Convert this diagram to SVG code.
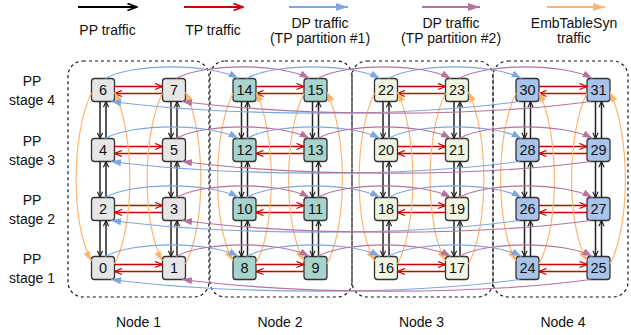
<svg xmlns="http://www.w3.org/2000/svg" width="631" height="335" viewBox="0 0 631 335">
<defs>
<style>
text{font-family:"Liberation Sans",Arial,sans-serif;font-size:14px;fill:#111;text-anchor:middle}
.box{stroke:#333;stroke-width:1.3}
.box + text{font-size:14.5px}
.g1{fill:#e6e6e6}.g2{fill:#a9d4cd}.g3{fill:#eff5e1}.g4{fill:#a9c4eb}
.grp{fill:none;stroke:#111;stroke-width:1.2;stroke-dasharray:3 3}
.pp path{fill:none;stroke:#222;stroke-width:1.5;marker-end:url(#mBk)}
.tp path{fill:none;stroke:#cc0000;stroke-width:1.5;marker-end:url(#mRd)}
.emb path{fill:none;stroke:#ffb570;stroke-width:1.2;marker-end:url(#mOr)}
.dp1{fill:none;stroke:#7ea6e0;stroke-width:1.2;marker-end:url(#mBl)}
.dp2{fill:none;stroke:#b5739d;stroke-width:1.2;marker-end:url(#mPu)}
.leg{fill:none;stroke-width:2}
</style>
<marker id="mBk" viewBox="0 0 8 8" refX="7.5" refY="4" markerWidth="7" markerHeight="7" markerUnits="userSpaceOnUse" orient="auto"><path d="M1,1 L7.5,4 L1,7" fill="none" stroke="#222" stroke-width="1.3"/></marker>
<marker id="mRd" viewBox="0 0 9 8" refX="8.5" refY="4" markerWidth="9" markerHeight="8" markerUnits="userSpaceOnUse" orient="auto"><path d="M1,1 L8.5,4 L1,7" fill="none" stroke="#cc0000" stroke-width="1.3"/></marker>
<marker id="mBl" viewBox="0 0 10 8" refX="10" refY="4" markerWidth="10" markerHeight="8" markerUnits="userSpaceOnUse" orient="auto"><path d="M0,0.5 L10,4 L0,7.5 z" fill="#7ea6e0"/></marker>
<marker id="mPu" viewBox="0 0 10 8" refX="10" refY="4" markerWidth="10" markerHeight="8" markerUnits="userSpaceOnUse" orient="auto"><path d="M0,0.5 L10,4 L0,7.5 z" fill="#b5739d"/></marker>
<marker id="mOr" viewBox="0 0 10 8" refX="10" refY="4" markerWidth="10" markerHeight="8" markerUnits="userSpaceOnUse" orient="auto"><path d="M0,0.5 L10,4 L0,7.5 z" fill="#ffb570"/></marker>
<marker id="lBk" viewBox="0 0 11 9" refX="10.5" refY="4.5" markerWidth="11" markerHeight="9" markerUnits="userSpaceOnUse" orient="auto"><path d="M1,1 L10,4.5 L1,8" fill="none" stroke="#000" stroke-width="1.8"/></marker>
<marker id="lRd" viewBox="0 0 11 9" refX="10.5" refY="4.5" markerWidth="11" markerHeight="9" markerUnits="userSpaceOnUse" orient="auto"><path d="M1,1 L10,4.5 L1,8" fill="none" stroke="#cc0000" stroke-width="1.8"/></marker>
<marker id="lBl" viewBox="0 0 12 9" refX="12" refY="4.5" markerWidth="12" markerHeight="9" markerUnits="userSpaceOnUse" orient="auto"><path d="M0,0.5 L12,4.5 L0,8.5 z" fill="#7ea6e0"/></marker>
<marker id="lPu" viewBox="0 0 12 9" refX="12" refY="4.5" markerWidth="12" markerHeight="9" markerUnits="userSpaceOnUse" orient="auto"><path d="M0,0.5 L12,4.5 L0,8.5 z" fill="#b5739d"/></marker>
<marker id="lOr" viewBox="0 0 12 9" refX="12" refY="4.5" markerWidth="12" markerHeight="9" markerUnits="userSpaceOnUse" orient="auto"><path d="M0,0.5 L12,4.5 L0,8.5 z" fill="#ffb570"/></marker>
</defs>
<rect width="631" height="335" fill="#fff"/>

<g id="legend">
<path class="leg" d="M78,7H137" stroke="#000" marker-end="url(#lBk)"/>
<path class="leg" d="M184,7H243" stroke="#cc0000" marker-end="url(#lRd)"/>
<path class="leg" d="M289,7H348" stroke="#7ea6e0" marker-end="url(#lBl)"/>
<path class="leg" d="M422,7H480" stroke="#b5739d" marker-end="url(#lPu)"/>
<path class="leg" d="M547,7H605" stroke="#ffb570" marker-end="url(#lOr)"/>
<text x="107.5" y="34.5">PP traffic</text>
<text x="213" y="34.5">TP traffic</text>
<text x="320" y="28">DP traffic</text>
<text x="320" y="42.5">(TP partition #1)</text>
<text x="451" y="28">DP traffic</text>
<text x="451" y="42.5">(TP partition #2)</text>
<text x="574" y="28">EmbTableSyn</text>
<text x="574" y="43">traffic</text>
</g>

<g id="stage-labels">
<text x="32" y="85.5">PP</text><text x="32" y="104.5">stage 4</text>
<text x="32" y="145.5">PP</text><text x="32" y="164.5">stage 3</text>
<text x="32" y="204.5">PP</text><text x="32" y="223.5">stage 2</text>
<text x="32" y="263.5">PP</text><text x="32" y="282.5">stage 1</text>
</g>

<g id="server-nodes">
<g id="node-group-1"><rect class="grp" x="68" y="61" width="141" height="236" rx="15"/><text x="138.5" y="326.5">Node 1</text></g>
<g id="node-group-2"><rect class="grp" x="210" y="61" width="142" height="236" rx="15"/><text x="280" y="326.5">Node 2</text></g>
<g id="node-group-3"><rect class="grp" x="352" y="61" width="141" height="236" rx="15"/><text x="421.5" y="326.5">Node 3</text></g>
<g id="node-group-4"><rect class="grp" x="493" y="61" width="135" height="236" rx="15"/><text x="563" y="326.5">Node 4</text></g>
</g>

<g id="gpus">
<g id="gpu-0" transform="translate(103,268)"><rect class="box g1" x="-11.5" y="-11.5" width="23" height="23" rx="3"/><text y="5">0</text></g>
<g id="gpu-1" transform="translate(174,268)"><rect class="box g1" x="-11.5" y="-11.5" width="23" height="23" rx="3"/><text y="5">1</text></g>
<g id="gpu-2" transform="translate(103,209)"><rect class="box g1" x="-11.5" y="-11.5" width="23" height="23" rx="3"/><text y="5">2</text></g>
<g id="gpu-3" transform="translate(174,209)"><rect class="box g1" x="-11.5" y="-11.5" width="23" height="23" rx="3"/><text y="5">3</text></g>
<g id="gpu-4" transform="translate(103,150)"><rect class="box g1" x="-11.5" y="-11.5" width="23" height="23" rx="3"/><text y="5">4</text></g>
<g id="gpu-5" transform="translate(174,150)"><rect class="box g1" x="-11.5" y="-11.5" width="23" height="23" rx="3"/><text y="5">5</text></g>
<g id="gpu-6" transform="translate(103,90)"><rect class="box g1" x="-11.5" y="-11.5" width="23" height="23" rx="3"/><text y="5">6</text></g>
<g id="gpu-7" transform="translate(174,90)"><rect class="box g1" x="-11.5" y="-11.5" width="23" height="23" rx="3"/><text y="5">7</text></g>
<g id="gpu-8" transform="translate(244.5,268)"><rect class="box g2" x="-11.5" y="-11.5" width="23" height="23" rx="3"/><text y="5">8</text></g>
<g id="gpu-9" transform="translate(315.5,268)"><rect class="box g2" x="-11.5" y="-11.5" width="23" height="23" rx="3"/><text y="5">9</text></g>
<g id="gpu-10" transform="translate(244.5,209)"><rect class="box g2" x="-11.5" y="-11.5" width="23" height="23" rx="3"/><text y="5">10</text></g>
<g id="gpu-11" transform="translate(315.5,209)"><rect class="box g2" x="-11.5" y="-11.5" width="23" height="23" rx="3"/><text y="5">11</text></g>
<g id="gpu-12" transform="translate(244.5,150)"><rect class="box g2" x="-11.5" y="-11.5" width="23" height="23" rx="3"/><text y="5">12</text></g>
<g id="gpu-13" transform="translate(315.5,150)"><rect class="box g2" x="-11.5" y="-11.5" width="23" height="23" rx="3"/><text y="5">13</text></g>
<g id="gpu-14" transform="translate(244.5,90)"><rect class="box g2" x="-11.5" y="-11.5" width="23" height="23" rx="3"/><text y="5">14</text></g>
<g id="gpu-15" transform="translate(315.5,90)"><rect class="box g2" x="-11.5" y="-11.5" width="23" height="23" rx="3"/><text y="5">15</text></g>
<g id="gpu-16" transform="translate(386,268)"><rect class="box g3" x="-11.5" y="-11.5" width="23" height="23" rx="3"/><text y="5">16</text></g>
<g id="gpu-17" transform="translate(457,268)"><rect class="box g3" x="-11.5" y="-11.5" width="23" height="23" rx="3"/><text y="5">17</text></g>
<g id="gpu-18" transform="translate(386,209)"><rect class="box g3" x="-11.5" y="-11.5" width="23" height="23" rx="3"/><text y="5">18</text></g>
<g id="gpu-19" transform="translate(457,209)"><rect class="box g3" x="-11.5" y="-11.5" width="23" height="23" rx="3"/><text y="5">19</text></g>
<g id="gpu-20" transform="translate(386,150)"><rect class="box g3" x="-11.5" y="-11.5" width="23" height="23" rx="3"/><text y="5">20</text></g>
<g id="gpu-21" transform="translate(457,150)"><rect class="box g3" x="-11.5" y="-11.5" width="23" height="23" rx="3"/><text y="5">21</text></g>
<g id="gpu-22" transform="translate(386,90)"><rect class="box g3" x="-11.5" y="-11.5" width="23" height="23" rx="3"/><text y="5">22</text></g>
<g id="gpu-23" transform="translate(457,90)"><rect class="box g3" x="-11.5" y="-11.5" width="23" height="23" rx="3"/><text y="5">23</text></g>
<g id="gpu-24" transform="translate(527.5,268)"><rect class="box g4" x="-11.5" y="-11.5" width="23" height="23" rx="3"/><text y="5">24</text></g>
<g id="gpu-25" transform="translate(598.5,268)"><rect class="box g4" x="-11.5" y="-11.5" width="23" height="23" rx="3"/><text y="5">25</text></g>
<g id="gpu-26" transform="translate(527.5,209)"><rect class="box g4" x="-11.5" y="-11.5" width="23" height="23" rx="3"/><text y="5">26</text></g>
<g id="gpu-27" transform="translate(598.5,209)"><rect class="box g4" x="-11.5" y="-11.5" width="23" height="23" rx="3"/><text y="5">27</text></g>
<g id="gpu-28" transform="translate(527.5,150)"><rect class="box g4" x="-11.5" y="-11.5" width="23" height="23" rx="3"/><text y="5">28</text></g>
<g id="gpu-29" transform="translate(598.5,150)"><rect class="box g4" x="-11.5" y="-11.5" width="23" height="23" rx="3"/><text y="5">29</text></g>
<g id="gpu-30" transform="translate(527.5,90)"><rect class="box g4" x="-11.5" y="-11.5" width="23" height="23" rx="3"/><text y="5">30</text></g>
<g id="gpu-31" transform="translate(598.5,90)"><rect class="box g4" x="-11.5" y="-11.5" width="23" height="23" rx="3"/><text y="5">31</text></g>
</g>

<g id="connectors">
<g id="pp-traffic" class="pp">
<g transform="translate(103,0)">
<path d="M-3,101.5V138.5"/><path d="M3,138.5V101.5"/><path d="M-3,161.5V197.5"/><path d="M3,197.5V161.5"/><path d="M-3,220.5V256.5"/><path d="M3,256.5V220.5"/>
<path d="M68,101.5V138.5"/><path d="M74,138.5V101.5"/><path d="M68,161.5V197.5"/><path d="M74,197.5V161.5"/><path d="M68,220.5V256.5"/><path d="M74,256.5V220.5"/>
</g>
<g transform="translate(244.5,0)">
<path d="M-3,101.5V138.5"/><path d="M3,138.5V101.5"/><path d="M-3,161.5V197.5"/><path d="M3,197.5V161.5"/><path d="M-3,220.5V256.5"/><path d="M3,256.5V220.5"/>
<path d="M68,101.5V138.5"/><path d="M74,138.5V101.5"/><path d="M68,161.5V197.5"/><path d="M74,197.5V161.5"/><path d="M68,220.5V256.5"/><path d="M74,256.5V220.5"/>
</g>
<g transform="translate(386,0)">
<path d="M-3,101.5V138.5"/><path d="M3,138.5V101.5"/><path d="M-3,161.5V197.5"/><path d="M3,197.5V161.5"/><path d="M-3,220.5V256.5"/><path d="M3,256.5V220.5"/>
<path d="M68,101.5V138.5"/><path d="M74,138.5V101.5"/><path d="M68,161.5V197.5"/><path d="M74,197.5V161.5"/><path d="M68,220.5V256.5"/><path d="M74,256.5V220.5"/>
</g>
<g transform="translate(527.5,0)">
<path d="M-3,101.5V138.5"/><path d="M3,138.5V101.5"/><path d="M-3,161.5V197.5"/><path d="M3,197.5V161.5"/><path d="M-3,220.5V256.5"/><path d="M3,256.5V220.5"/>
<path d="M68,101.5V138.5"/><path d="M74,138.5V101.5"/><path d="M68,161.5V197.5"/><path d="M74,197.5V161.5"/><path d="M68,220.5V256.5"/><path d="M74,256.5V220.5"/>
</g>
</g>

<g id="tp-traffic" class="tp">
<g transform="translate(103,0)">
<path d="M11.5,86.5H59.5"/><path d="M59.5,93.5H11.5"/><path d="M11.5,146.5H59.5"/><path d="M59.5,153.5H11.5"/><path d="M11.5,205.5H59.5"/><path d="M59.5,212.5H11.5"/><path d="M11.5,264.5H59.5"/><path d="M59.5,271.5H11.5"/>
</g>
<g transform="translate(244.5,0)">
<path d="M11.5,86.5H59.5"/><path d="M59.5,93.5H11.5"/><path d="M11.5,146.5H59.5"/><path d="M59.5,153.5H11.5"/><path d="M11.5,205.5H59.5"/><path d="M59.5,212.5H11.5"/><path d="M11.5,264.5H59.5"/><path d="M59.5,271.5H11.5"/>
</g>
<g transform="translate(386,0)">
<path d="M11.5,86.5H59.5"/><path d="M59.5,93.5H11.5"/><path d="M11.5,146.5H59.5"/><path d="M59.5,153.5H11.5"/><path d="M11.5,205.5H59.5"/><path d="M59.5,212.5H11.5"/><path d="M11.5,264.5H59.5"/><path d="M59.5,271.5H11.5"/>
</g>
<g transform="translate(527.5,0)">
<path d="M11.5,86.5H59.5"/><path d="M59.5,93.5H11.5"/><path d="M11.5,146.5H59.5"/><path d="M59.5,153.5H11.5"/><path d="M11.5,205.5H59.5"/><path d="M59.5,212.5H11.5"/><path d="M11.5,264.5H59.5"/><path d="M59.5,271.5H11.5"/>
</g>
</g>

<g id="emb-traffic" class="emb">
<g transform="translate(103,0)">
<path d="M-11.5,93C-32,135 -32,225 -11.5,261"/><path d="M11.5,264C32,225 32,135 11.5,92"/>
<path d="M59.5,93C39,135 39,225 59.5,261"/><path d="M82.5,264C103,225 103,135 82.5,92"/>
</g>
<g transform="translate(244.5,0)">
<path d="M-11.5,93C-32,135 -32,225 -11.5,261"/><path d="M11.5,264C32,225 32,135 11.5,92"/>
<path d="M59.5,93C39,135 39,225 59.5,261"/><path d="M82.5,264C103,225 103,135 82.5,92"/>
</g>
<g transform="translate(386,0)">
<path d="M-11.5,93C-32,135 -32,225 -11.5,261"/><path d="M11.5,264C32,225 32,135 11.5,92"/>
<path d="M59.5,93C39,135 39,225 59.5,261"/><path d="M82.5,264C103,225 103,135 82.5,92"/>
</g>
<g transform="translate(527.5,0)">
<path d="M-11.5,93C-32,135 -32,225 -11.5,261"/><path d="M11.5,264C32,225 32,135 11.5,92"/>
<path d="M59.5,93C39,135 39,225 59.5,261"/><path d="M82.5,264C103,225 103,135 82.5,92"/>
</g>
</g>

<g id="dp-traffic">
<path class="dp1" d="M105,78.5C133,63 209.5,63 238.5,78.5"/>
<path class="dp1" d="M246.5,78.5C274.5,63 351,63 380,78.5"/>
<path class="dp1" d="M388,78.5C416,63 492.5,63 521.5,78.5"/>
<path class="dp1" d="M519.5,101.5C407.5,117 233,117 111,101.5"/>
<path class="dp2" d="M176,78.5C204,63 280.5,63 309.5,78.5"/>
<path class="dp2" d="M317.5,78.5C345.5,63 422,63 451,78.5"/>
<path class="dp2" d="M459,78.5C487,63 563.5,63 592.5,78.5"/>
<path class="dp2" d="M590.5,101.5C478.5,117 304,117 182,101.5"/>

<path class="dp1" d="M105,138.5C133,123 209.5,123 238.5,138.5"/>
<path class="dp1" d="M246.5,138.5C274.5,123 351,123 380,138.5"/>
<path class="dp1" d="M388,138.5C416,123 492.5,123 521.5,138.5"/>
<path class="dp1" d="M519.5,161.5C407.5,177 233,177 111,161.5"/>
<path class="dp2" d="M176,138.5C204,123 280.5,123 309.5,138.5"/>
<path class="dp2" d="M317.5,138.5C345.5,123 422,123 451,138.5"/>
<path class="dp2" d="M459,138.5C487,123 563.5,123 592.5,138.5"/>
<path class="dp2" d="M590.5,161.5C478.5,177 304,177 182,161.5"/>

<path class="dp1" d="M105,197.5C133,182 209.5,182 238.5,197.5"/>
<path class="dp1" d="M246.5,197.5C274.5,182 351,182 380,197.5"/>
<path class="dp1" d="M388,197.5C416,182 492.5,182 521.5,197.5"/>
<path class="dp1" d="M519.5,220.5C407.5,236 233,236 111,220.5"/>
<path class="dp2" d="M176,197.5C204,182 280.5,182 309.5,197.5"/>
<path class="dp2" d="M317.5,197.5C345.5,182 422,182 451,197.5"/>
<path class="dp2" d="M459,197.5C487,182 563.5,182 592.5,197.5"/>
<path class="dp2" d="M590.5,220.5C478.5,236 304,236 182,220.5"/>

<path class="dp1" d="M105,256.5C133,241 209.5,241 238.5,256.5"/>
<path class="dp1" d="M246.5,256.5C274.5,241 351,241 380,256.5"/>
<path class="dp1" d="M388,256.5C416,241 492.5,241 521.5,256.5"/>
<path class="dp1" d="M519.5,279.5C407.5,295 233,295 111,279.5"/>
<path class="dp2" d="M176,256.5C204,241 280.5,241 309.5,256.5"/>
<path class="dp2" d="M317.5,256.5C345.5,241 422,241 451,256.5"/>
<path class="dp2" d="M459,256.5C487,241 563.5,241 592.5,256.5"/>
<path class="dp2" d="M590.5,279.5C478.5,295 304,295 182,279.5"/>
</g>
</g>
</svg>
